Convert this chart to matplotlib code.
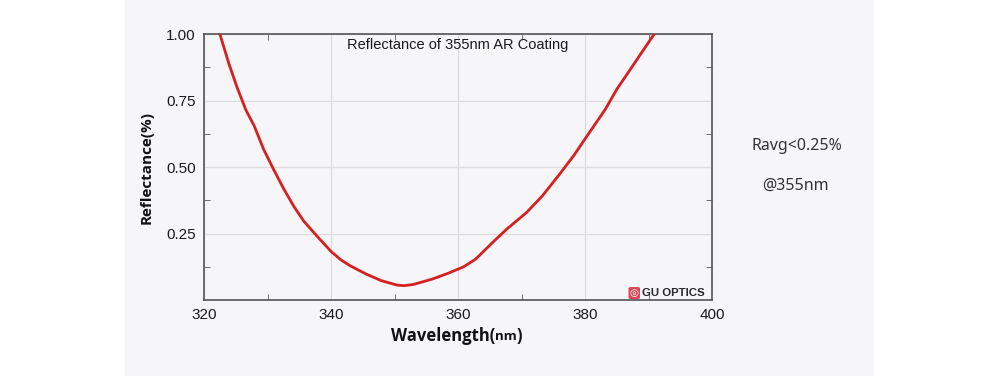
import matplotlib
matplotlib.use("Agg")
import matplotlib.pyplot as plt
from matplotlib.patches import Rectangle, FancyBboxPatch
import numpy as np

wavelength = [322.5, 323.9, 325.2, 326.6, 327.9, 329.4, 331.0, 332.6, 334.2, 335.7,
              337.8, 339.95, 341.5, 343.0, 345.5, 347.9, 350.4, 351.5, 352.9, 356.0,
              358.5, 360.9, 362.8, 365.3, 367.7, 370.8, 373.3, 375.8, 378.2, 380.7,
              383.2, 385.0, 387.5, 390.9]
reflectance = [1.00, 0.89, 0.80, 0.714, 0.655, 0.566, 0.489, 0.416, 0.350, 0.297,
               0.240, 0.184, 0.152, 0.129, 0.098, 0.073, 0.056, 0.054, 0.058, 0.079,
               0.101, 0.125, 0.154, 0.213, 0.267, 0.329, 0.392, 0.467, 0.542, 0.63,
               0.717, 0.792, 0.88, 1.00]
x_ticks = [320, 340, 360, 380, 400]
y_ticks = [0.25, 0.50, 0.75, 1.00]
y_ticklabels = ["0.25", "0.50", "0.75", "1.00"]

plt.rcParams['font.family'] = ['Liberation Sans', 'DejaVu Sans']

fig = plt.figure(figsize=(10, 3.76), dpi=100)
fig.patch.set_facecolor('white')
bg = '#f6f6f8'
fig.patches.append(Rectangle((0.125, 0), 0.749, 1, transform=fig.transFigure,
                             facecolor=bg, edgecolor='none', zorder=-10))

ax = fig.add_axes([0.204, 0.2021, 0.508, 0.7074])
ax.set_zorder(1)
ax.set_facecolor(bg)
ax.plot(wavelength, reflectance, color='#d42020', lw=2.0, zorder=3,
        solid_joinstyle='round')
ax.set_xlim(320, 400)
ax.set_ylim(0, 1.0)
ax.set_xticks(x_ticks)
ax.set_yticks(y_ticks)
ax.set_yticklabels(y_ticklabels)
ax.set_xticks([330, 350, 370, 390], minor=True)
ax.set_yticks([0.125, 0.375, 0.625, 0.875], minor=True)
ax.grid(True, which='major', color='#dcdcdc', lw=0.9)
ax.tick_params(which='both', direction='in', top=True, right=True, colors='#555555',
               labelcolor='#1a1a1a', labelsize=11)
ax.tick_params(which='major', length=0, pad=6)
ax.tick_params(which='minor', length=4)
for s in ax.spines.values():
    s.set_color('#555555')
    s.set_linewidth(1.2)

ax.text(0.5, 0.985, "Reflectance of 355nm AR Coating", transform=ax.transAxes,
        ha='center', va='top', fontsize=10.5, color='#1a1a1a')

ax.set_ylabel("Reflectance(%)", fontsize=11, fontweight='bold', family=['Open Sans', 'DejaVu Sans'],
              labelpad=9, color='#111111')

# logo
logo_y = 1 - 293 / 376
fig.patches.append(FancyBboxPatch((0.6285, logo_y - 0.016), 0.0115, 0.032,
                                  boxstyle='round,pad=0.0,rounding_size=0.003',
                                  transform=fig.transFigure, facecolor='#d9485a',
                                  edgecolor='none', zorder=5))
fig.text(0.6343, logo_y, "◎", ha='center', va='center', fontsize=7.5, color='white',
         family='DejaVu Sans', zorder=6)
fig.text(0.6415, logo_y, "GU OPTICS", ha='left', va='center', fontsize=8.2,
         fontweight='bold', color='#2a2a2a', zorder=6)

# x label with smaller "nm"
fig.canvas.draw()
r = fig.canvas.get_renderer()
xl_y = 1 - 336 / 376
t1 = fig.text(0.391, xl_y, "Wavelength(", fontsize=12, fontweight='bold',
              family=['Open Sans', 'DejaVu Sans'], color='#111111', va='center', ha='left')
bb = t1.get_window_extent(r)
t2 = fig.text(bb.x1 / 1000, xl_y - 0.002, "nm", fontsize=9.5, fontweight='bold',
              family=['Open Sans', 'DejaVu Sans'], color='#111111', va='center', ha='left')
bb2 = t2.get_window_extent(r)
fig.text(bb2.x1 / 1000, xl_y, ")", fontsize=12, fontweight='bold',
         family=['Open Sans', 'DejaVu Sans'], color='#111111', va='center', ha='left')

fig.text(0.797, 1 - 146 / 376, "Ravg<0.25%", ha='center', va='center', fontsize=11.5,
         family=['Noto Sans', 'DejaVu Sans'], color='#333333')
fig.text(0.795, 1 - 186 / 376, "@355nm", ha='center', va='center', fontsize=11.5,
         family=['Noto Sans', 'DejaVu Sans'], color='#333333')

fig.savefig("out.png", dpi=100, facecolor='white')
